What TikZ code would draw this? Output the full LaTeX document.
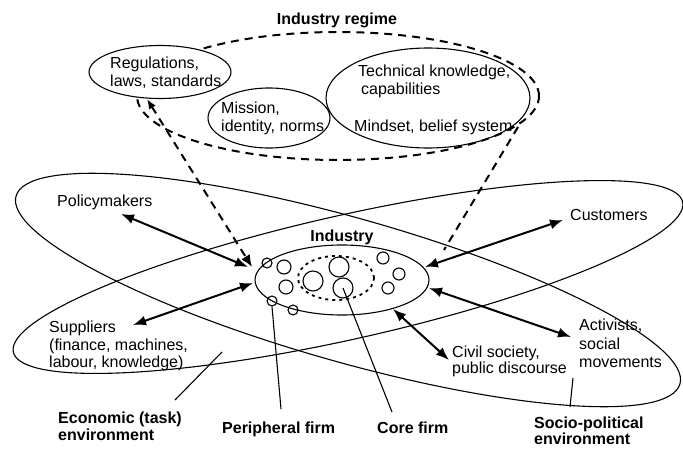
\documentclass[tikz,border=0pt]{standalone}
\usepackage{fontspec}
\setmainfont{Liberation Sans}
\usetikzlibrary{arrows.meta}
\begin{document}
\begin{tikzpicture}[x=1pt,y=-1pt,
  txt/.style={font=\fontsize{16}{17.5}\selectfont, inner sep=0pt, align=left},
  btxt/.style={font=\fontsize{16}{16.5}\selectfont\bfseries, inner sep=0pt, align=left},
  thinline/.style={line width=1.1pt},
  arr/.style={line width=2pt, {Latex[length=13pt,width=10pt]}-{Latex[length=13pt,width=10pt]}},
  dsh/.style={line width=2pt, dash pattern=on 8pt off 6pt},
  firm/.style={circle, draw, line width=1.1pt, inner sep=0pt},
]
\useasboundingbox (0,0) rectangle (683,450);

% environments
\draw[thinline, rotate around={-15.8:(348,290)}] (348,290) ellipse [x radius=345pt, y radius=72pt];
\draw[thinline, rotate around={12.65:(348,277)}] (348,277) ellipse [x radius=343pt, y radius=62pt];

% industry regime
\draw[dsh] (338,96) ellipse [x radius=201pt, y radius=64pt];
\draw[thinline, fill=white] (160,72) ellipse [x radius=71pt, y radius=26.5pt];
\draw[thinline] (269,118) ellipse [x radius=61pt, y radius=30pt];
\draw[thinline] (428,98) ellipse [x radius=102pt, y radius=50pt];

\node[btxt, anchor=north] (regime) at (337,13) {Industry regime};
\node[txt, anchor=north west] (reg) at (110,57) {Regulations,\\laws, standards};
\node[txt, anchor=north west] (mis) at (221,102) {Mission,\\identity, norms};
\node[txt, anchor=north west] (tech) at (358,65) {Technical knowledge,\\\hspace{3pt}capabilities};
\node[txt, anchor=north west] (mind) at (354,120) {Mindset, belief system};

% industry
\draw[thinline, fill=white] (342,280) ellipse [x radius=87pt, y radius=35pt];
\draw[line width=1.8pt, dash pattern=on 3pt off 4pt] (336,278) ellipse [x radius=38pt, y radius=22pt];
\node[btxt, anchor=north] (ind) at (342,230) {Industry};

\node[firm, minimum width=8pt, minimum height=10pt] (p1) at (267,263) {};
\node[firm, minimum width=8pt, minimum height=10pt] (p2) at (272,301) {};
\node[firm, minimum width=8pt, minimum height=10pt] (p3) at (293,310) {};
\node[firm, minimum size=14pt] (c1) at (284,267) {};
\node[firm, minimum size=14pt] (c2) at (286,287) {};
\node[firm, minimum size=20pt] (c3) at (313,281) {};
\node[firm, minimum size=20pt] (c4) at (339,267) {};
\node[firm, minimum size=20pt] (core) at (343,288) {};
\node[firm, minimum size=12pt] (c6) at (383,258) {};
\node[firm, minimum size=12pt] (c7) at (399,274) {};
\node[firm, minimum size=12pt] (c8) at (388,288) {};

% actors
\node[txt, anchor=north west] (pol) at (57,195) {Policymakers};
\node[txt, anchor=north west] (cus) at (570,209) {Customers};
\node[txt, anchor=north west] (sup) at (49,321) {Suppliers\\(finance, machines,\\labour, knowledge)};
\node[txt, anchor=north west, font=\fontsize{16}{16}\selectfont] (civ) at (452,346) {Civil society,\\public discourse};
\node[txt, anchor=north west, font=\fontsize{16}{18.5}\selectfont] (act) at (579,319) {Activists,\\social\\movements};

% bottom labels
\node[btxt, anchor=north west] (eco) at (58,412) {Economic (task)\\environment};
\node[btxt, anchor=north west] (per) at (222,422) {Peripheral firm};
\node[btxt, anchor=north west] (cor) at (377,422) {Core firm};
\node[btxt, anchor=north west, font=\fontsize{16}{16}\selectfont\bfseries] (soc) at (534,417) {Socio-political\\environment};

% arrow end points
\coordinate (polA) at (121,214); \coordinate (polB) at (248,267);
\coordinate (supA) at (133,325); \coordinate (supB) at (253,283);
\coordinate (cusA) at (563,220); \coordinate (cusB) at (425,267);
\coordinate (actA) at (571,337); \coordinate (actB) at (429,288);
\coordinate (civA) at (449,360); \coordinate (civB) at (393,309);
\coordinate (regB) at (147,99);  \coordinate (regI) at (252,267);
\coordinate (rgR) at (518,127);  \coordinate (rgI) at (444,250);
\coordinate (perT) at (281,409);
\coordinate (coreT) at (392,412);
\coordinate (ecoA) at (222,352); \coordinate (ecoB) at (175,400);
\coordinate (socA) at (573,378); \coordinate (socB) at (570,407);

\draw[arr] (polA) -- (polB);
\draw[arr] (supA) -- (supB);
\draw[arr] (cusA) -- (cusB);
\draw[arr] (actA) -- (actB);
\draw[arr] (civA) -- (civB);

\draw[dsh, {Latex[length=10pt,width=8pt]}-{Latex[length=12pt,width=10pt]}] (regB) -- (regI);
\draw[dsh] (rgR) -- (rgI);

\draw[thinline] (p2.south) -- (perT);
\draw[thinline] (core.center) -- (coreT);
\draw[thinline] (ecoA) -- (ecoB);
\draw[thinline] (socA) -- (socB);
\end{tikzpicture}
\end{document}
